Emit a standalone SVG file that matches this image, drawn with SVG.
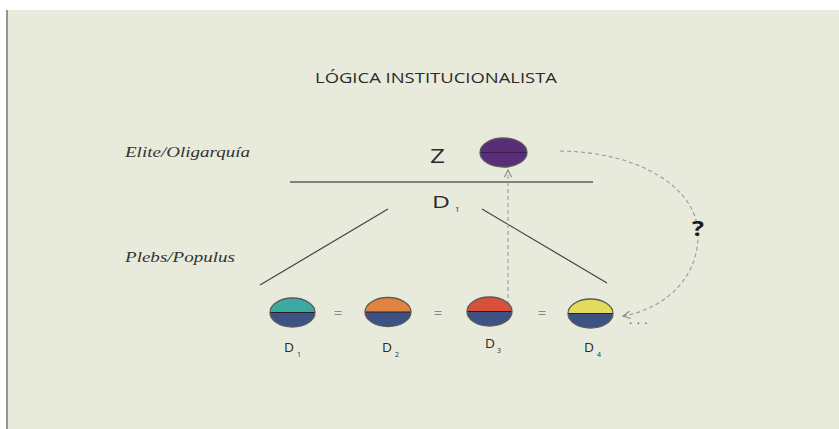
<svg xmlns="http://www.w3.org/2000/svg" width="839" height="429" viewBox="0 0 839 429">
<style>
.sans{font-family:"Open Sans","Liberation Sans",sans-serif;fill:#2a2a2a}
.ital{font-family:"Liberation Serif","DejaVu Serif",serif;font-style:italic;fill:#333}
.rim{fill:none;stroke:#5a5a5a;stroke-width:1.3}
.mid{stroke:#222;stroke-width:1.2}
.navy{fill:#3d5283}
.dash{fill:none;stroke:#9a9a9a;stroke-width:1.1;stroke-dasharray:4 3}
.solid{fill:none;stroke:#444;stroke-width:1.2}
.eq{font-family:"Open Sans","Liberation Sans",sans-serif;fill:#8a8a8a;font-size:15px;text-anchor:middle}
</style>
<defs>
<marker id="chev" viewBox="0 0 10 10" refX="9" refY="5" markerWidth="9" markerHeight="9" markerUnits="userSpaceOnUse" orient="auto">
<path d="M1,1 L9,5 L1,9" fill="none" stroke="#8a8a8a" stroke-width="1.2"/>
</marker>
</defs>
<rect x="0" y="0" width="839" height="429" fill="#ffffff"/>
<rect x="8" y="10" width="831" height="419" fill="#e8eadc"/>
<line x1="7" y1="10" x2="7" y2="429" stroke="#707070" stroke-width="1.5"/>

<text class="sans" x="315" y="83" font-size="14" textLength="242" lengthAdjust="spacingAndGlyphs">LÓGICA INSTITUCIONALISTA</text>
<text class="ital" x="125" y="157" font-size="14" textLength="125" lengthAdjust="spacingAndGlyphs">Elite/Oligarquía</text>
<text class="ital" x="125" y="262" font-size="14" textLength="110" lengthAdjust="spacingAndGlyphs">Plebs/Populus</text>

<g id="connectors">
<line x1="290" y1="182" x2="593" y2="182" stroke="#808080" stroke-width="2"/>
<line class="solid" x1="388" y1="209" x2="260" y2="285"/>
<line class="solid" x1="482" y1="209" x2="607" y2="283"/>
<path class="dash" d="M508,305 L508,170" marker-end="url(#chev)"/>
<path class="dash" d="M560,151 C640,152 698,188 698,235 C698,282 660,310 623,316" marker-end="url(#chev)"/>
<text x="692" y="236" font-family="Open Sans,Liberation Sans,sans-serif" font-size="21" font-weight="bold" fill="#1a1a1a" textLength="12" lengthAdjust="spacingAndGlyphs">?</text>
<text x="629" y="324" font-family="Open Sans,Liberation Sans,sans-serif" font-size="12" fill="#555" letter-spacing="4.5">...</text>
</g>

<g id="Z">
<text class="sans" x="430" y="163" font-size="20" textLength="15" lengthAdjust="spacingAndGlyphs">Z</text>
<ellipse cx="503.5" cy="152.5" rx="23.5" ry="14.5" fill="#5a2d78"/>
<line x1="480" y1="152.5" x2="527" y2="152.5" stroke="#3b1d52" stroke-width="1.2"/>
<ellipse class="rim" cx="503.5" cy="152.5" rx="23.5" ry="14.5"/>
</g>

<g id="D1top">
<text class="sans" x="432" y="208" font-size="17" textLength="18" lengthAdjust="spacingAndGlyphs">D</text>
<text class="sans" x="455" y="212" font-size="8">1</text>
</g>

<g id="node-D1">
<path d="M270,312.5 A22.5,14.5 0 0 1 315,312.5 Z" fill="#3aaaa2"/>
<path class="navy" d="M270,312.5 A22.5,14.5 0 0 0 315,312.5 Z"/>
<line class="mid" x1="270" y1="312.5" x2="315" y2="312.5"/>
<ellipse class="rim" cx="292.5" cy="312.5" rx="22.5" ry="14.5"/>
<text class="sans" x="284" y="352" font-size="12" textLength="10" lengthAdjust="spacingAndGlyphs">D</text>
<text class="sans" x="297" y="357" font-size="7">1</text>
</g>

<g id="node-D2">
<path d="M365,312 A23,14.5 0 0 1 411,312 Z" fill="#e0843f"/>
<path class="navy" d="M365,312 A23,14.5 0 0 0 411,312 Z"/>
<line class="mid" x1="365" y1="312" x2="411" y2="312"/>
<ellipse class="rim" cx="388" cy="312" rx="23" ry="14.5"/>
<text class="sans" x="382" y="352" font-size="12" textLength="10" lengthAdjust="spacingAndGlyphs">D</text>
<text class="sans" x="395" y="357" font-size="7">2</text>
</g>

<g id="node-D3">
<path d="M467,311.5 A22.5,14.5 0 0 1 512,311.5 Z" fill="#d9503a"/>
<path class="navy" d="M467,311.5 A22.5,14.5 0 0 0 512,311.5 Z"/>
<line class="mid" x1="467" y1="311.5" x2="512" y2="311.5"/>
<ellipse class="rim" cx="489.5" cy="311.5" rx="22.5" ry="14.5"/>
<text class="sans" x="485" y="348" font-size="12" textLength="10" lengthAdjust="spacingAndGlyphs">D</text>
<text class="sans" x="497" y="353" font-size="7">3</text>
</g>

<g id="node-D4">
<path d="M568,313.5 A22.5,14.5 0 0 1 613,313.5 Z" fill="#e2db5c"/>
<path class="navy" d="M568,313.5 A22.5,14.5 0 0 0 613,313.5 Z"/>
<line class="mid" x1="568" y1="313.5" x2="613" y2="313.5"/>
<ellipse class="rim" cx="590.5" cy="313.5" rx="22.5" ry="14.5"/>
<text class="sans" x="584" y="352" font-size="12" textLength="10" lengthAdjust="spacingAndGlyphs">D</text>
<text class="sans" x="597" y="357" font-size="7">4</text>
</g>

<g id="equals">
<text class="eq" x="338" y="318">=</text>
<text class="eq" x="438" y="318">=</text>
<text class="eq" x="542" y="318">=</text>
</g>
</svg>
